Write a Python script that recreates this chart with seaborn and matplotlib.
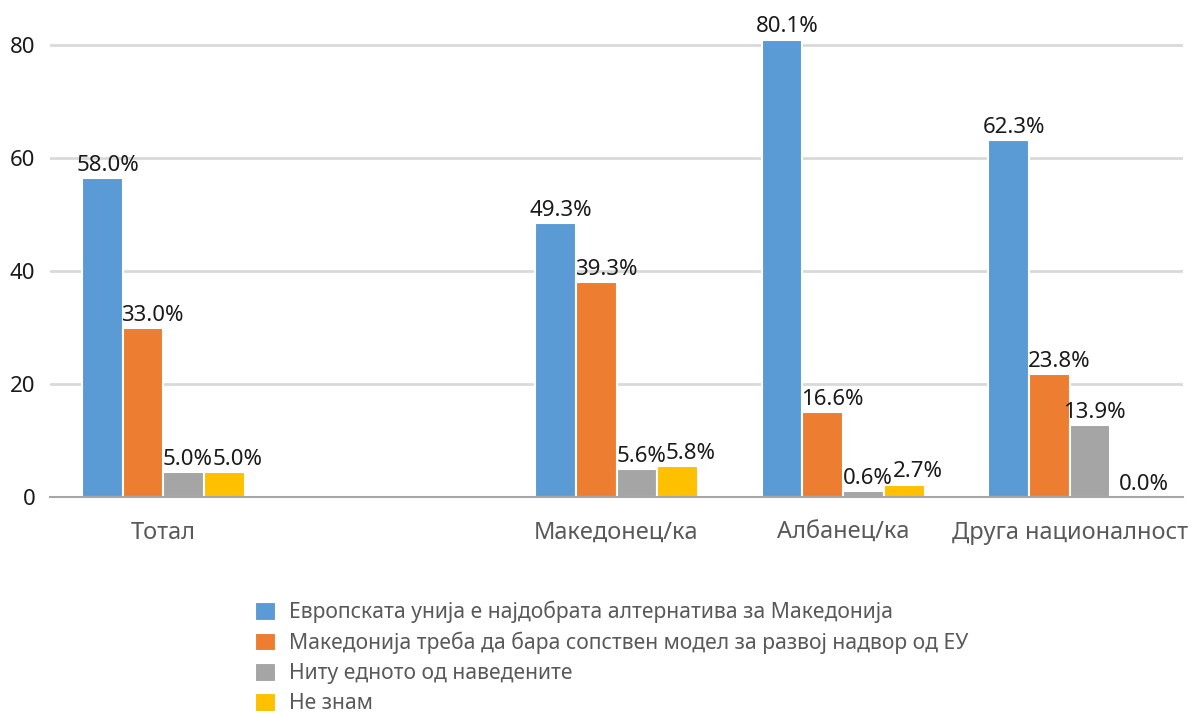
import matplotlib
matplotlib.use("Agg")
import matplotlib.pyplot as plt
import pandas as pd
import seaborn as sns

# categories (the blank one is the empty slot between "Тотал" and "Македонец/ка")
categories = ["Тотал", " ", "Македонец/ка", "Албанец/ка", "Друга националност"]
series = [
    "Европската унија е најдобрата алтернатива за Македонија",
    "Македонија треба да бара сопствен модел за развој надвор од ЕУ",
    "Ниту едното од наведените",
    "Не знам",
]
# bar heights as drawn in the picture (no bars in the blank slot)
bar_cats = ["Тотал", "Македонец/ка", "Албанец/ка", "Друга националност"]
eu_best = [56.4, 48.5, 80.9, 63.2]
own_model = [29.9, 38.0, 15.0, 21.8]
neither = [4.4, 5.0, 1.0, 12.7]
dont_know = [4.4, 5.5, 2.2, 0.0]
# printed data labels
eu_best_lbl = ["58.0%", "49.3%", "80.1%", "62.3%"]
own_model_lbl = ["33.0%", "39.3%", "16.6%", "23.8%"]
neither_lbl = ["5.0%", "5.6%", "0.6%", "13.9%"]
dont_know_lbl = ["5.0%", "5.8%", "2.7%", "0.0%"]

colors = ["#5B9BD5", "#ED7D31", "#A5A5A5", "#FFC000"]
label_shift = [4, 7, 3, 9.5]  # labels sit a bit right of the bar centre

rows = []
for name, vals in zip(series, [eu_best, own_model, neither, dont_know]):
    for c, v in zip(bar_cats, vals):
        rows.append({"cat": c, "series": name, "value": v})
df = pd.DataFrame(rows)

sns.set_style("white")
plt.rcParams["font.family"] = ["Noto Sans", "DejaVu Sans"]

fig = plt.figure(figsize=(11.91, 7.13), dpi=100)
ax = fig.add_axes([50 / 1191, 1 - 497 / 713, 1133 / 1191, 475 / 713])

sns.barplot(data=df, x="cat", y="value", hue="series", order=categories,
            hue_order=series, palette=colors, width=0.72, edgecolor="white",
            linewidth=1.5, saturation=1, ax=ax)

all_lbls = [eu_best_lbl, own_model_lbl, neither_lbl, dont_know_lbl]
for cont, lbls, dx in zip(ax.containers, all_lbls, label_shift):
    anns = ax.bar_label(cont, labels=lbls, padding=1.5, fontsize=16, color="#1a1a1a")
    for a in anns:
        a.xyann = (dx, 1.5)

ax.set_ylim(0, 84)
ax.set_xlim(-0.5, 4.5)
ax.set_yticks([0, 20, 40, 60, 80])
ax.yaxis.grid(True, color="#D9D9D9", linewidth=2)
ax.set_axisbelow(True)
ax.tick_params(axis="y", length=0, pad=10.5, labelsize=16, labelcolor="#1a1a1a")

# ticks between the slots, labels at the slot centres
ax.set_xticks([-0.5, 0.5, 1.5, 2.5, 3.5, 4.5])
ax.set_xticklabels([])
ax.set_xticks(range(len(categories)), labels=categories, minor=True)
ax.tick_params(axis="x", which="major", length=4, color="#A6A6A6", width=1.2)
ax.tick_params(axis="x", which="minor", length=0, pad=17, labelsize=17, labelcolor="#595959")
ax.set_xlabel("")
ax.set_ylabel("")

for s in ["top", "right", "left"]:
    ax.spines[s].set_visible(False)
ax.spines["bottom"].set_color("#A6A6A6")
ax.spines["bottom"].set_linewidth(1.5)

handles, labels = ax.get_legend_handles_labels()
ax.get_legend().remove()
fig.legend(handles, labels, loc="upper left", bbox_to_anchor=(255 / 1191, 1 - 601 / 713),
           frameon=False, fontsize=15.2, labelcolor="#595959", handlelength=1.0,
           handleheight=1.0, handletextpad=0.6, labelspacing=0.4, borderpad=0,
           borderaxespad=0)

fig.savefig("out.png", dpi=100)
